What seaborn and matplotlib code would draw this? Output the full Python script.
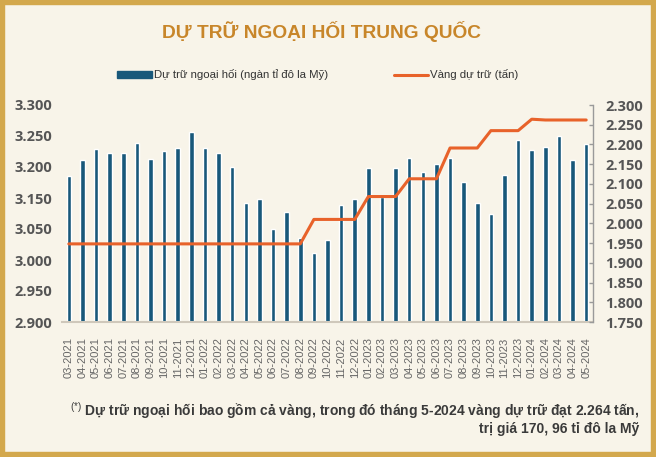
import matplotlib
matplotlib.use("Agg")
import matplotlib.pyplot as plt
import matplotlib.patches as mpatches
from matplotlib.lines import Line2D
import numpy as np
import pandas as pd
import seaborn as sns

months = ["03-2021", "04-2021", "05-2021", "06-2021", "07-2021", "08-2021", "09-2021", "10-2021",
          "11-2021", "12-2021", "01-2022", "02-2022", "03-2022", "04-2022", "05-2022", "06-2022",
          "07-2022", "08-2022", "09-2022", "10-2022", "11-2022", "12-2022", "01-2023", "02-2023",
          "03-2023", "04-2023", "05-2023", "06-2023", "07-2023", "08-2023", "09-2023", "10-2023",
          "11-2023", "12-2023", "01-2024", "02-2024", "03-2024", "04-2024", "05-2024"]
fx_reserves = [3170, 3198, 3218, 3211, 3211, 3230, 3200, 3216, 3220, 3250, 3220, 3211, 3186,
               3119, 3127, 3071, 3102, 3054, 3028, 3051, 3116, 3127, 3183, 3130, 3183, 3203,
               3176, 3192, 3202, 3158, 3119, 3100, 3171, 3236, 3217, 3223, 3243, 3199, 3229]
gold_tonnes = [1948] * 18 + [2010, 2010, 2010, 2010, 2068, 2068, 2068, 2113, 2113, 2113,
                             2191, 2191, 2191, 2235, 2235, 2235, 2264, 2262, 2262, 2262, 2262]
left_tick_labels = ["2.900", "2.950", "3.000", "3.050", "3.150", "3.200", "3.250", "3.300"]
right_ticks = [1750, 1800, 1850, 1900, 1950, 2000, 2050, 2100, 2150, 2200, 2250, 2300]

title = "DỰ TRỮ NGOẠI HỐI TRUNG QUỐC"
legend_fx = "Dự trữ ngoại hối (ngàn tỉ đô la Mỹ)"
legend_gold = "Vàng dự trữ (tấn)"
note1 = "$^{(*)}$ Dự trữ ngoại hối bao gồm cả vàng, trong đó tháng 5-2024 vàng dự trữ đạt 2.264 tấn,"
note2 = "trị giá 170, 96 tỉ đô la Mỹ"

BG = "#f8f4e9"
BAR = "#18587a"
LINE = "#e8622a"
GOLD = "#d3a84d"
TITLE_C = "#c8862a"
TXT = "#555555"

sns.set_theme(style="white")
plt.rcParams["font.family"] = ["Liberation Sans", "DejaVu Sans"]
plt.rcParams["mathtext.fontset"] = "custom"
plt.rcParams["mathtext.rm"] = "Liberation Sans"

df = pd.DataFrame({"month": months, "fx": fx_reserves, "gold": gold_tonnes,
                   "idx": np.arange(len(months))})

fig = plt.figure(figsize=(6.56, 4.57), dpi=100, facecolor=BG)
ax = fig.add_axes([62 / 656, 1 - 322 / 457, 531 / 656, 217 / 457])
ax.set_facecolor(BG)

sns.barplot(data=df, x="month", y="fx", color=BAR, width=0.33, ax=ax, saturation=1)
ax.set_ylim(2900, 3300)
ax.set_xlim(-0.5, len(months) - 0.5)
ax.set_yticks(np.linspace(2900, 3300, len(left_tick_labels)))
ax.set_yticklabels(left_tick_labels, fontsize=10.5, fontweight="bold", color=TXT,
                   family=["Open Sans", "DejaVu Sans"])
ax.tick_params(axis="y", length=0, pad=7)
ax.tick_params(axis="x", length=0, pad=11)
ax.set_xticks(np.arange(len(months)))
ax.set_xticklabels(months, rotation=90, fontsize=8, color="#666666")
ax.set_xlabel("")
ax.set_ylabel("")
for s in ["top", "left", "right"]:
    ax.spines[s].set_visible(False)
ax.spines["bottom"].set_color("#cfc8bb")
ax.spines["bottom"].set_linewidth(1.5)

ax2 = ax.twinx()
sns.lineplot(data=df, x="idx", y="gold", color=LINE, linewidth=2.2, ax=ax2)
ax2.set_ylim(1750, 2300)
ax2.set_yticks(right_ticks)
ax2.set_yticklabels([f"{v:,}".replace(",", ".") for v in right_ticks], fontsize=10.5,
                    fontweight="bold", color=TXT, family=["Open Sans", "DejaVu Sans"])
ax2.tick_params(axis="y", direction="in", length=3, width=1, color="#9a9a9a", pad=9)
ax2.set_ylabel("")
ax2.set_xlabel("")
for s in ["top", "left", "bottom"]:
    ax2.spines[s].set_visible(False)
ax2.spines["right"].set_color("#9a9a9a")
ax2.spines["right"].set_linewidth(1)
ax2.set_xlim(-0.5, len(months) - 0.5)

fig.text(322 / 656, 1 - 32 / 457, title, ha="center", va="center", fontsize=13.8,
         fontweight="bold", color=TITLE_C)

# legend
h1 = mpatches.Patch(color=BAR)
h2 = Line2D([0], [0], color=LINE, lw=2.2)
fig.legend([h1, h2], [legend_fx, legend_gold], loc="center", bbox_to_anchor=(318 / 656, 1 - 75 / 457),
           ncol=2, frameon=False, fontsize=8.2, handlelength=3.0, handleheight=0.55,
           handletextpad=0.2, columnspacing=5.8, labelcolor="#333333")

fig.text(639 / 656, 1 - 411 / 457, note1, ha="right", va="center", fontsize=10,
         fontweight="bold", color="#3a3a3a")
fig.text(639 / 656, 1 - 429 / 457, note2, ha="right", va="center", fontsize=10,
         fontweight="bold", color="#3a3a3a")

fig.patches.append(mpatches.Rectangle((0, 0), 1, 1, transform=fig.transFigure, fill=False,
                                      edgecolor=GOLD, linewidth=7.5, zorder=10))

fig.savefig("out.png", dpi=100, facecolor=BG)
